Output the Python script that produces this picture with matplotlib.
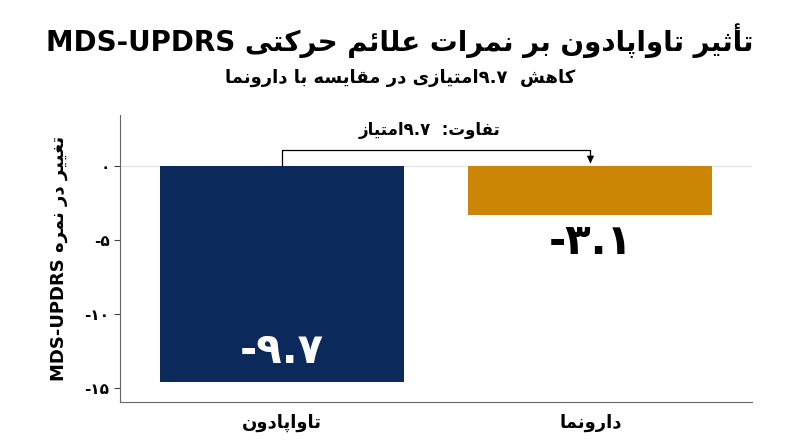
import unicodedata
import matplotlib
matplotlib.use("Agg")
import matplotlib.pyplot as plt

plt.rcParams["font.family"] = ["DejaVu Sans"]

TITLE = "تأثیر تاواپادون بر نمرات علائم حرکتی MDS-UPDRS"
SUBTITLE = "کاهش ۹.۷ امتیازی در مقایسه با دارونما"
YLABEL = "تغییر در نمره MDS-UPDRS"
GROUPS = ["تاواپادون", "دارونما"]
BAR_VALUES = [-14.6, -3.3]
BAR_LABELS = ["-۹.۷", "-۳.۱"]
DIFF_LABEL = "تفاوت: ۹.۷ امتیاز"
YTICKS = [0, -5, -10, -15]
YTICK_LABELS = ["۰", "-۵", "-۱۰", "-۱۵"]
COLORS = ["#0b2a5b", "#cc8505"]

RIGHT_ONLY = set("اأآإدذرزژوؤة")


def _form(ch, kind):
    try:
        return unicodedata.lookup(unicodedata.name(ch) + " " + kind + " FORM")
    except (KeyError, ValueError):
        return ch


def _is_arabic_letter(ch):
    return "\u0620" <= ch <= "\u064a" or ch in "پچژگکی"


def shape(word):
    out = []
    n = len(word)
    for i, ch in enumerate(word):
        if not _is_arabic_letter(ch):
            out.append(ch)
            continue
        prev_joins = i > 0 and _is_arabic_letter(word[i - 1]) and word[i - 1] not in RIGHT_ONLY
        next_joins = i < n - 1 and _is_arabic_letter(word[i + 1]) and ch not in RIGHT_ONLY
        if prev_joins and next_joins:
            kind = "MEDIAL"
        elif prev_joins:
            kind = "FINAL"
        elif next_joins:
            kind = "INITIAL"
        else:
            kind = "ISOLATED"
        out.append(_form(ch, kind))
    return "".join(out)


def _is_ltr(ch):
    return ch.isascii() and ch.isalnum() or "\u06f0" <= ch <= "\u06f9" or ch in ".-"


def fa(text):
    # crude bidi: split into runs, shape rtl runs, reverse order
    runs, cur, cur_ltr = [], "", None
    for ch in text:
        ltr = _is_ltr(ch) if ch not in " :" else cur_ltr
        if cur_ltr is None or ltr == cur_ltr:
            cur += ch
        else:
            runs.append((cur, cur_ltr))
            cur = ch
        cur_ltr = ltr
    runs.append((cur, cur_ltr))
    pieces = []
    for r, ltr in runs:
        if ltr:
            # keep surrounding spaces outside
            pieces.append(r)
        else:
            pieces.append(shape(r)[::-1])
    return "".join(reversed(pieces))


fig = plt.figure(figsize=(8, 4.47), dpi=100)
ax = fig.add_axes([0.15, 0.10, 0.79, 0.643])
x = [0, 1]
bars = ax.bar(x, BAR_VALUES, width=0.79, color=COLORS)
ax.axhline(0, color="#e6e6e6", lw=1, zorder=0)
ax.set_xlim(-0.523, 1.523)
ax.set_ylim(-15.95, 3.45)
ax.set_yticks(YTICKS)
ax.set_yticklabels(YTICK_LABELS, fontsize=11, fontweight="bold")
ax.set_xticks(x)
ax.set_xticklabels([fa(g) for g in GROUPS], fontsize=13, fontweight="bold")
ax.tick_params(axis="x", length=0, pad=8)
ax.tick_params(axis="y", length=4, color="#444444")
for s in ["top", "right"]:
    ax.spines[s].set_visible(False)
for s in ["left", "bottom"]:
    ax.spines[s].set_color("#666666")
ax.set_ylabel(fa(YLABEL), fontsize=13, fontweight="bold", labelpad=12)

ax.text(0, -12.5, BAR_LABELS[0], color="white", fontsize=30, fontweight="bold",
        ha="center", va="center")
ax.text(1, BAR_VALUES[1] - 1.8, BAR_LABELS[1], color="black", fontsize=30,
        fontweight="bold", ha="center", va="center")

# difference bracket
ax.plot([0, 0, 1, 1], [0, 1.1, 1.1, 0.35], color="black", lw=0.9)
ax.annotate("", xy=(1, 0.0), xytext=(1, 0.45),
            arrowprops=dict(arrowstyle="-|>", color="black", lw=0.9, mutation_scale=10))
ax.text(0.48, 2.4, fa(DIFF_LABEL), fontsize=12, fontweight="bold", ha="center", va="center")

fig.text(0.5, 0.91, fa(TITLE), fontsize=20, fontweight="bold", ha="center", va="center")
fig.text(0.5, 0.825, fa(SUBTITLE), fontsize=13, fontweight="bold", ha="center", va="center")

fig.savefig("out.png", dpi=100)
